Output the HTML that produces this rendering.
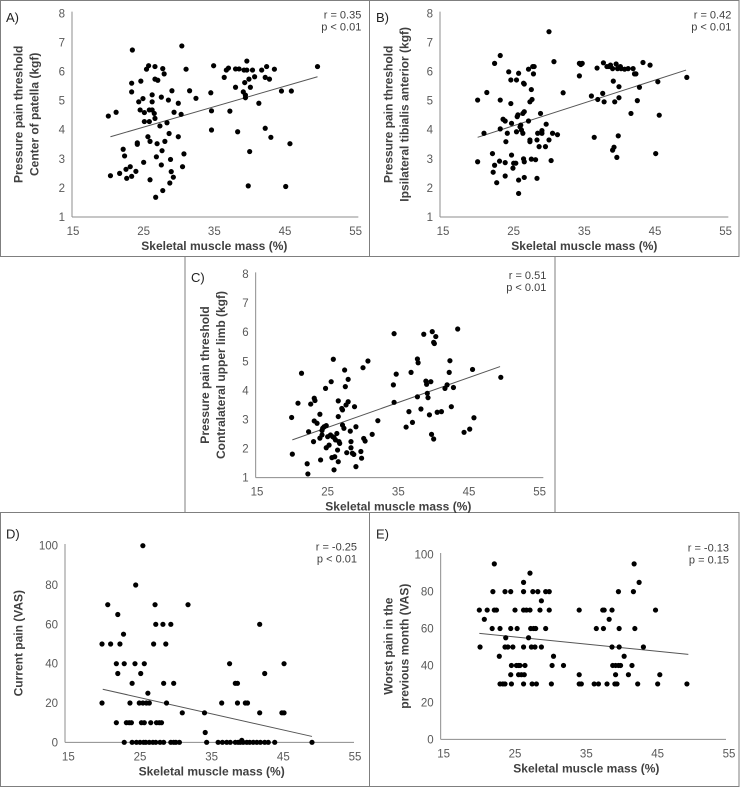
<!DOCTYPE html>
<html><head><meta charset="utf-8"><style>
html,body{margin:0;padding:0;background:#fff;}
svg{display:block;font-family:"Liberation Sans",Arial,sans-serif;}
</style></head><body>
<svg id="fig" width="740" height="787" viewBox="0 0 740 787"></svg>
<script>
// ---- Data ----
const aX=[20.0,21.1,20.3,21.6,22.1,22.3,22.5,22.6,23.1,23.3,23.3,23.3,23.4,23.9,24.1,24.1,24.3,24.6,24.5,24.9,25.0,25.1,25.1,25.6,25.4,25.7,25.8,25.8,25.9,25.9,26.2,26.2,26.2,26.5,26.6,26.6,26.6,26.8,26.7,26.9,27.0,27.3,27.5,27.6,27.7,27.9,28.0,27.5,27.7,28.3,28.5,28.6,28.7,28.8,28.9,29.0,29.2,29.3,29.9,29.9,30.3,30.4,30.5,30.7,31.0,31.5,32.4,34.5,34.6,34.6,34.9,36.4,36.7,37.0,37.2,38.0,38.0,38.3,38.5,39.1,39.2,39.3,39.4,39.6,39.6,39.4,39.8,39.9,40.0,40.1,40.4,40.7,41.3,41.7,42.2,42.2,42.4,42.8,43.0,43.5,44.5,45.1,45.7,45.9,49.6];
const aY=[4.47,4.6,2.42,2.5,3.33,3.1,2.64,2.33,2.73,2.4,5.6,5.3,6.74,2.57,3.55,3.5,4.96,5.67,4.68,5.07,2.88,4.59,4.28,3.76,6.08,6.2,4.28,4.68,3.6,2.28,5.2,4.96,4.68,4.56,4.39,6.17,5.74,3.07,1.68,3.52,5.7,4.13,5.12,3.28,6.1,5.92,3.6,2.79,1.91,4.24,5.02,3.87,2.17,2.98,2.56,5.34,2.37,4.6,4.91,3.76,4.53,6.88,2.73,3.17,6.08,5.34,5.08,5.27,4.65,3.99,6.2,5.8,6.05,6.12,4.64,6.09,5.46,3.93,6.09,5.3,6.05,5.62,5.19,6.36,6.05,5.1,2.07,5.74,3.25,5.46,6.05,5.82,4.91,6.05,5.8,4.05,6.17,5.74,3.74,6.08,5.33,2.05,3.52,5.33,6.17];
const aTrend=[[20.3,3.76],[49.6,5.82]];

const bX=[19.9,19.9,20.8,21.2,22.0,22.3,22.3,22.1,22.6,23.1,23.1,23.1,23.0,23.5,23.8,23.8,23.8,23.9,24.1,24.3,24.6,24.6,24.7,24.7,24.9,25.0,25.3,25.4,25.4,25.5,25.6,25.7,25.7,25.7,25.9,26.0,26.1,26.3,26.3,26.4,26.4,26.5,26.5,26.5,26.5,27.1,27.1,27.3,27.3,27.3,27.5,27.6,27.5,27.7,27.8,27.9,28.1,28.3,28.3,28.4,28.6,28.8,29.0,29.0,29.5,29.6,30.0,30.0,30.3,30.5,30.7,31.2,32.0,34.3,34.5,34.3,34.7,36.0,36.4,36.8,36.9,37.6,37.7,37.8,38.2,38.5,38.7,39.0,39.1,39.0,39.2,39.3,39.5,39.6,39.7,39.8,39.9,39.9,40.1,40.2,40.7,41.2,41.6,41.9,42.1,42.3,42.5,42.8,43.3,44.3,45.1,45.4,45.6,49.5];
const bY=[5.02,2.9,3.88,5.28,3.18,6.28,2.78,2.54,2.18,6.55,5.02,4.03,2.92,4.36,4.3,2.87,2.41,3.59,3.88,5.99,4.9,5.71,4.22,3.13,2.68,2.85,2.85,5.71,3.93,4.45,4.51,5.94,2.27,1.81,4.1,4.16,3.99,3.88,4.56,5.6,3.0,2.9,2.36,4.62,5.57,4.3,6.08,3.59,3.65,4.96,5.38,5.04,2.99,6.17,5.92,6.17,2.97,2.33,3.65,3.88,3.42,4.56,3.88,3.97,3.42,4.19,7.37,3.65,2.94,3.88,6.34,3.83,5.27,6.28,6.24,5.85,6.28,5.16,3.74,6.12,5.04,5.25,6.3,4.96,6.17,6.17,6.22,6.1,5.67,3.3,3.4,4.96,6.26,3.05,6.1,3.79,5.48,5.1,6.17,6.1,6.08,6.1,4.56,6.1,5.92,5.92,5.0,5.46,6.31,6.22,3.18,5.65,4.5,5.8];
const bTrend=[[19.9,3.74],[49.4,6.05]];

const cX=[19.9,20.0,20.8,21.3,22.1,22.2,22.3,22.6,23.0,23.1,23.2,23.1,23.5,23.9,23.9,24.0,24.2,24.2,24.3,24.5,24.7,24.8,24.8,25.0,25.2,25.4,25.5,25.6,25.7,25.8,25.9,25.9,26.0,26.1,26.3,26.4,26.5,26.5,26.5,26.6,26.7,27.0,27.1,27.1,27.3,27.4,27.5,27.6,27.7,27.9,27.9,28.2,28.3,28.3,28.5,28.7,28.8,29.0,29.0,29.7,29.8,30.0,30.1,30.3,30.7,31.3,32.1,34.3,34.4,34.4,34.7,36.1,36.5,36.8,37.0,37.7,37.8,37.7,38.2,38.6,38.9,39.0,39.1,39.2,39.4,39.6,39.7,39.8,40.0,40.0,40.1,40.3,40.5,41.1,41.6,41.9,42.2,42.3,42.5,42.8,43.4,44.3,45.1,45.5,45.7,49.5];
const cY=[3.07,1.81,3.56,4.59,1.48,1.13,2.58,3.53,2.24,3.73,3.65,2.95,2.87,3.18,2.36,1.61,2.47,2.62,2.7,2.75,4.07,2.79,2.03,2.41,2.12,2.47,4.3,1.69,2.41,5.07,1.27,2.38,1.72,2.3,2.52,1.95,1.55,3.64,3.1,2.24,2.18,3.38,3.33,2.81,2.7,4.7,4.13,3.5,1.86,4.38,3.61,2.6,2.24,2.03,1.84,1.8,3.44,2.75,1.38,1.9,1.67,4.78,2.35,2.26,5.01,2.49,2.96,4.19,5.95,3.59,4.56,2.74,3.27,4.62,2.9,5.08,4.95,3.78,3.36,5.93,4.32,4.21,3.9,3.75,3.16,4.3,2.49,6.02,2.33,5.65,5.61,5.85,3.25,3.27,4.07,4.19,4.62,5.02,3.44,4.1,6.11,2.56,2.67,4.72,3.06,4.45];
const cTrend=[[20.0,2.3],[49.4,4.82]];

const dX=[19.7,19.7,20.5,20.9,21.7,21.7,21.9,21.9,22.2,22.7,22.8,22.8,23.1,23.5,23.6,23.8,23.9,23.9,24.3,24.4,24.5,24.9,25.0,25.1,25.2,25.4,25.4,25.5,25.6,25.6,25.8,25.9,26.1,26.3,26.3,26.5,26.8,26.9,27.1,27.2,27.2,27.3,27.7,27.8,28.0,28.2,28.3,28.3,28.6,28.7,29.3,29.3,29.7,29.7,30.0,30.5,30.9,31.7,34.0,34.1,34.3,35.9,36.4,36.5,37.1,37.5,37.6,38.3,38.3,38.6,38.6,38.7,39.0,39.2,39.4,39.7,39.9,40.0,40.3,40.8,41.3,41.7,41.7,41.8,42.4,42.4,42.9,43.8,44.8,45.1,45.1,49.0];
const dY=[20,50,70,50,10,40,35,65,50,55,0,40,10,10,20,10,0,30,40,80,0,20,0,35,10,100,20,0,10,40,0,20,25,20,0,10,0,50,70,60,0,10,10,0,10,60,0,30,50,20,60,0,0,30,0,0,15,70,15,5,0,0,20,0,0,40,0,0,30,30,20,0,0,1,0,20,0,20,0,0,0,15,60,0,35,0,0,0,15,15,40,0];
const dTrend=[[19.8,27],[49.0,3]];

const eX=[20.0,20.1,20.7,21.1,21.8,21.9,22.1,22.1,22.4,22.8,22.9,22.9,23.3,23.6,23.6,23.7,23.6,24.0,24.4,24.4,24.4,24.5,24.5,24.7,25.0,25.2,25.3,25.5,25.5,25.7,25.9,26.2,26.2,26.2,26.2,26.2,26.3,26.4,26.6,26.9,27.1,27.1,27.2,27.3,27.4,27.5,27.6,27.8,27.9,28.0,28.2,28.5,28.7,28.7,29.3,29.3,29.8,29.8,30.1,30.2,30.4,31.8,34.0,34.0,34.0,34.3,36.1,36.7,36.4,37.3,37.4,37.5,37.9,38.2,38.6,38.6,38.7,39.0,39.1,39.1,39.3,39.5,39.5,39.6,39.6,39.8,40.3,40.9,41.4,41.6,41.7,41.8,42.2,42.4,43.0,44.7,45.0,45.3,49.1];
const eY=[70,50,65,70,60,80,95,70,70,45,60,30,30,30,80,55,50,50,80,60,35,40,30,50,70,40,60,40,35,40,35,50,80,85,70,30,35,40,70,55,90,70,60,50,30,80,60,50,60,30,80,70,50,75,80,60,80,70,30,40,45,40,70,35,30,30,30,30,60,70,60,70,30,65,50,70,40,30,35,40,30,40,80,50,60,40,45,35,40,80,95,60,30,85,50,70,30,35,30];
const eTrend=[[20.0,57.4],[49.3,46.0]];

const ticksPPT=[1,2,3,4,5,6,7,8];
const ticksVAS=[0,20,40,60,80,100];
const ticksX=[15,25,35,45,55];

// ---- Layout (zoom-derived, scaled by 1/3) ----
const NS="http://www.w3.org/2000/svg";
const svg=document.getElementById('fig');
function mk(tag,attrs,parent){const e=document.createElementNS(NS,tag);for(const k in attrs)e.setAttribute(k,attrs[k]);(parent||svg).appendChild(e);return e;}

// Panel borders
const boxes=[[0.5,0.5,369.5,256.5,'panel-a-border'],[369.5,0.5,739,256.5,'panel-b-border'],[185,256.5,555,512.5,'panel-c-border'],[0.5,512.5,369.5,786.5,'panel-d-border'],[369.5,512.5,739,786.5,'panel-e-border']];
boxes.forEach(b=>{
  const r=mk('rect',{x:b[0],y:b[1],width:b[2]-b[0],height:b[3]-b[1],fill:'none',stroke:'#7f7f7f','stroke-width':1});
  
  
});

const panels=[
 {id:'a',ox:0,oy:0,x15:219,ux:21.2,ytop:40,uy:87.3,ymax:8,ymin:1,axX:216,axY:651,right:1075,xs:aX,ys:aY,tr:aTrend,ticks:ticksPPT,lbl:'A)',r:'r = 0.35',p:'p < 0.01',yt:['Pressure pain threshold','Center of patella (kgf)'],ylx:[55,103],lblY:60},
 {id:'b',ox:370,oy:0,x15:219,ux:21.2,ytop:40,uy:87.3,ymax:8,ymin:1,axX:210,axY:651,right:1075,xs:bX,ys:bY,tr:bTrend,ticks:ticksPPT,lbl:'B)',r:'r = 0.42',p:'p < 0.01',yt:['Pressure pain threshold','Ipsilateral tibialis anterior (kgf)'],ylx:[55,103],lblY:60},
 {id:'c',ox:185,oy:255,x15:216,ux:21.2,ytop:57,uy:87.3,ymax:8,ymin:1,axX:212,axY:668,right:1075,xs:cX,ys:cY,tr:cTrend,ticks:ticksPPT,lbl:'C)',r:'r = 0.51',p:'p < 0.01',yt:['Pressure pain threshold','Contralateral upper limb (kgf)'],ylx:[60,108],lblY:75},
 {id:'d',ox:0,oy:510,x15:205,ux:21.5,ytop:107,uy:5.9,ymax:100,ymin:0,axX:195,axY:697,right:1062,xs:dX,ys:dY,tr:dTrend,ticks:ticksVAS,lbl:'D)',r:'r = -0.25',p:'p < 0.01',yt:['Current pain (VAS)'],ylx:[55],lblY:80},
 {id:'e',ox:370,oy:510,x15:221,ux:21.4,ytop:134,uy:5.54,ymax:100,ymin:0,axX:212,axY:688,right:1068,xs:eX,ys:eY,tr:eTrend,ticks:ticksVAS,lbl:'E)',r:'r = -0.13',p:'p = 0.15',yt:['Worst pain in the','previous month (VAS)'],ylx:[55,103],lblY:80}
];

panels.forEach(P=>{
  const g=mk('g',{});
  
  
  const sx=v=>P.ox+(P.x15+(v-15)*P.ux)/3;
  const sy=v=>P.oy+(P.ytop+(P.ymax-v)*P.uy)/3;
  const axL=P.ox+P.axX/3, axB=P.oy+P.axY/3, axR=P.ox+P.right/3, axT=P.oy+(P.ytop-5)/3;
  const ya=mk('line',{x1:axL,y1:axT,x2:axL,y2:axB,stroke:'#8c8c8c','stroke-width':1},g);
  
  
  const xa=mk('line',{x1:axL,y1:axB,x2:axR,y2:axB,stroke:'#8c8c8c','stroke-width':1},g);
  
  
  P.ticks.forEach(t=>{
    const tx=mk('text',{x:axL-7,y:sy(t)+4,'text-anchor':'end','font-size':11.5,fill:'#595959'},g);
    tx.textContent=t;
    
    
  });
  ticksX.forEach(t=>{
    const tx=mk('text',{x:sx(t),y:axB+18,'text-anchor':'middle','font-size':11.5,fill:'#595959'},g);
    tx.textContent=t;
    
    
  });
  const xt=mk('text',{x:(sx(15)+sx(55))/2,y:axB+33,'text-anchor':'middle','font-size':12,'font-weight':'bold',fill:'#404040'},g);
  xt.textContent='Skeletal muscle mass (%)';
  
  
  const cy=(axT+axB)/2;
  P.yt.forEach((s,i)=>{
    const x=P.ox+P.ylx[i]/3+4;
    const t=mk('text',{x:x,y:cy,'text-anchor':'middle','font-size':12,'font-weight':'bold',fill:'#404040',transform:`rotate(-90 ${x} ${cy})`},g);
    t.textContent=s;
    
    
  });
  const L=mk('text',{x:P.ox+6,y:P.oy+P.lblY/3+2,'font-size':13,fill:'#222'},g);
  L.textContent=P.lbl;
  
  
  const r=mk('text',{x:P.ox+P.right/3+3,y:P.oy+P.ytop/3+(P.id==='e'?-3:5),'text-anchor':'end','font-size':11,fill:'#404040'},g);
  r.textContent=P.r;
  
  
  const p=mk('text',{x:P.ox+P.right/3+3,y:P.oy+P.ytop/3+(P.id==='e'?9:17),'text-anchor':'end','font-size':11,fill:'#404040'},g);
  p.textContent=P.p;
  
  
  const tl=mk('line',{x1:sx(P.tr[0][0]),y1:sy(P.tr[0][1]),x2:sx(P.tr[1][0]),y2:sy(P.tr[1][1]),stroke:'#555','stroke-width':1},g);
  
  
  P.xs.forEach((v,i)=>{
    const c=mk('circle',{cx:sx(v),cy:sy(P.ys[i]),r:2.6,fill:'#000'},g);
    
    
  });
});
</script>
</body></html>
